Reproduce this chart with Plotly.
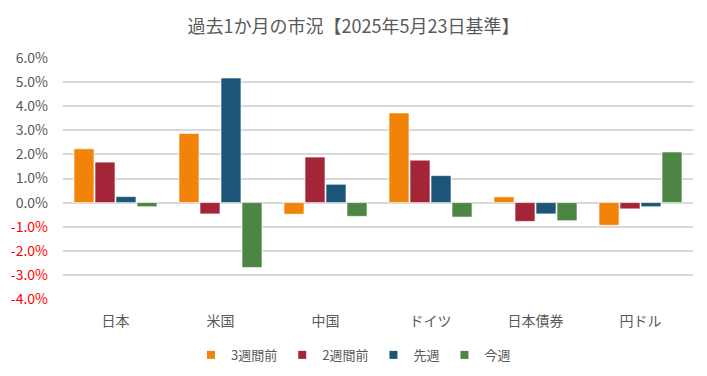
import plotly.graph_objects as go

categories = ["日本", "米国", "中国", "ドイツ", "日本債券", "円ドル"]
series_names = ["3週間前", "2週間前", "先週", "今週"]
w3 = [2.23, 2.87, -0.48, 3.72, 0.24, -0.94]
w2 = [1.68, -0.47, 1.89, 1.76, -0.78, -0.26]
w1 = [0.25, 5.17, 0.76, 1.12, -0.47, -0.17]
w0 = [-0.17, -2.69, -0.57, -0.60, -0.75, 2.10]
tick_vals = [6, 5, 4, 3, 2, 1, 0, -1, -2, -3, -4]

colors = ["#F08308", "#A42537", "#1B5678", "#4D8542"]
values = [w3, w2, w1, w0]

fig = go.Figure()
for name, vals, c in zip(series_names, values, colors):
    fig.add_trace(go.Bar(
        x=categories, y=vals, name=name, showlegend=False,
        marker=dict(color=c, line=dict(color="rgba(255,255,255,0.6)", width=1)),
    ))
for name, c in zip(series_names, colors):
    fig.add_trace(go.Scatter(
        x=[None], y=[None], mode="markers", name=name,
        marker=dict(symbol="square", size=8, color=c),
    ))

ticktext = []
for v in tick_vals:
    s = f"{v:.1f}%"
    if v < 0:
        s = f"<span style='color:#FF0000'>{s}</span>"
    ticktext.append(s)

font = "Noto Sans CJK JP, sans-serif"
fig.update_layout(
    width=707, height=376,
    margin=dict(l=63, r=14, t=58, b=77, autoexpand=False),
    paper_bgcolor="white", plot_bgcolor="white",
    font=dict(family=font, size=14, color="#595959"),
    title=dict(text="過去1か月の市況【2025年5月23日基準】", x=0.5, xanchor="center",
               yref="container", y=0.928, yanchor="middle",
               font=dict(size=18, color="#595959")),
    barmode="group", bargap=0.2, bargroupgap=0.05,
    showlegend=True,
    legend=dict(orientation="h", xref="container", x=0.5, xanchor="center",
                yref="container", y=0.056, yanchor="middle",
                font=dict(size=13, color="#595959"), itemwidth=30, tracegroupgap=0),
    xaxis=dict(showgrid=False, showline=False, ticks="", tickfont=dict(size=14),
               ticklabelstandoff=12),
    yaxis=dict(range=[-4, 6], tickvals=tick_vals, ticktext=ticktext,
               showgrid=True, gridcolor="#D9D9D9", gridwidth=1.5,
               zeroline=True, zerolinecolor="#D9D9D9", zerolinewidth=1.5,
               ticks="", ticklabelstandoff=14, tickfont=dict(size=14)),
)

fig.write_html("out.html", config={"displayModeBar": False},
               post_script="document.body.style.margin='0';document.body.style.overflow='hidden';")
